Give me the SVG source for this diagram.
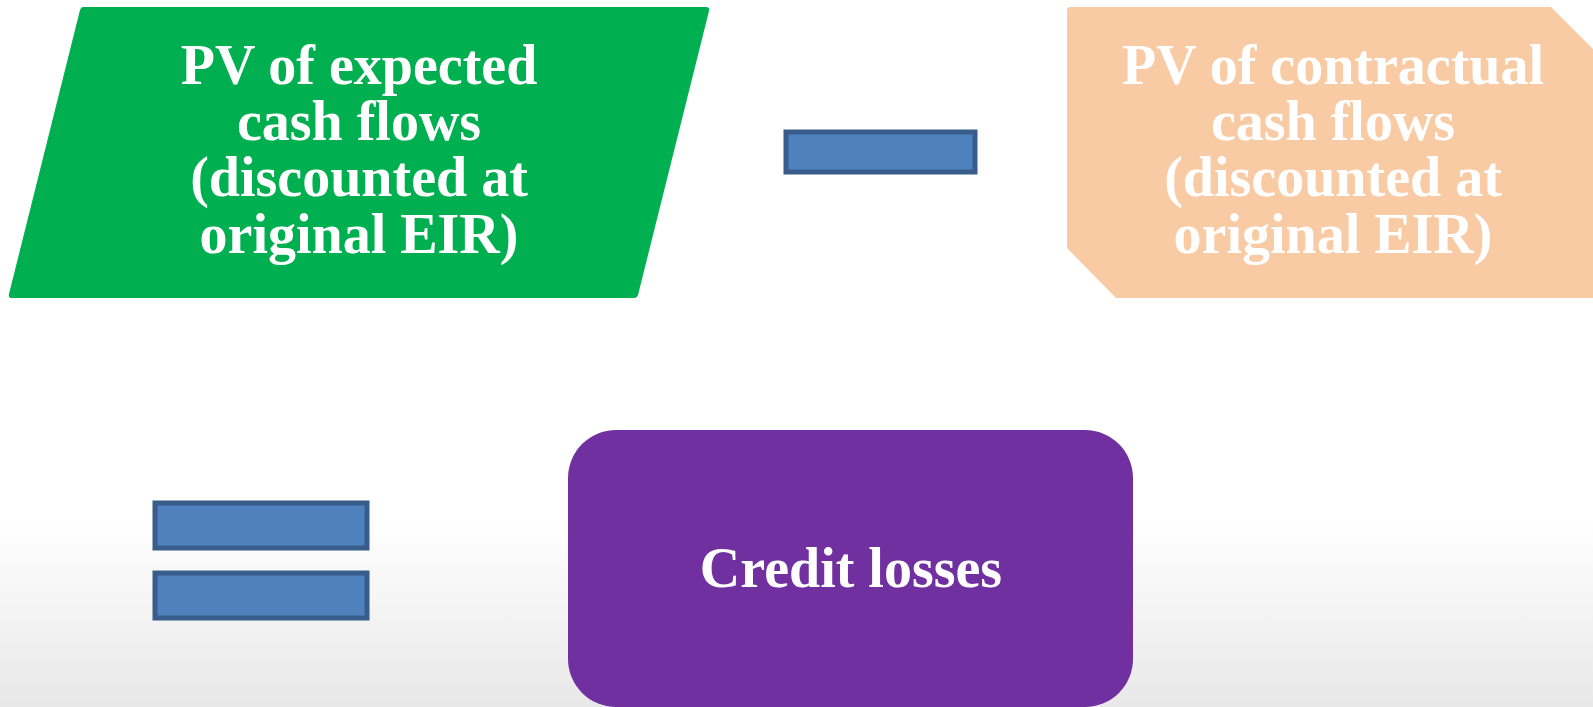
<svg xmlns="http://www.w3.org/2000/svg" width="1593" height="707" viewBox="0 0 1593 707">
  <defs>
    <linearGradient id="floor" x1="0" y1="0" x2="0" y2="1">
      <stop offset="0" stop-color="#ffffff"/>
      <stop offset="1" stop-color="#e8e8e8"/>
    </linearGradient>
    <style>
      .lbl { font-family: "Liberation Serif", "Times New Roman", serif; font-weight: bold; font-size: 56px; fill: #ffffff; text-anchor: middle; }
      .op { fill: #4f81bd; stroke: #385d8a; stroke-width: 5; }
    </style>
  </defs>

  <!-- page background with soft grey fade at the bottom -->
  <rect x="0" y="0" width="1593" height="707" fill="#ffffff"/>
  <rect x="0" y="520" width="1593" height="187" fill="url(#floor)"/>

  <!-- expected cash flows (parallelogram) -->
  <g id="expected">
    <path d="M83,7 L706,7 Q710,7 709,11 L638,295 Q637,298 634,298 L12,298 Q8,298 9,294 L80,10 Q81,7 83,7 Z" fill="#00b050"/>
    <text class="lbl" x="359" y="84">PV of expected</text>
    <text class="lbl" x="359" y="140">cash flows</text>
    <text class="lbl" x="359" y="196">(discounted at</text>
    <text class="lbl" x="359" y="253">original EIR)</text>
  </g>

  <!-- minus operator -->
  <g id="minus">
    <rect class="op" x="786" y="132" width="189" height="40"/>
  </g>

  <!-- contractual cash flows (snipped-corner rectangle) -->
  <g id="contractual">
    <path d="M1070,7 L1551,7 L1600,56 L1600,298 L1116,298 L1067,248 L1067,10 Q1067,7 1070,7 Z" fill="#f9cba4"/>
    <text class="lbl" x="1333" y="84">PV of contractual</text>
    <text class="lbl" x="1333" y="140">cash flows</text>
    <text class="lbl" x="1333" y="196">(discounted at</text>
    <text class="lbl" x="1333" y="253">original EIR)</text>
  </g>

  <!-- equals operator -->
  <g id="equals">
    <rect class="op" x="155" y="503" width="212" height="45"/>
    <rect class="op" x="155" y="573" width="212" height="45"/>
  </g>

  <!-- result -->
  <g id="credit-losses">
    <rect x="568" y="430" width="565" height="277" rx="48" ry="48" fill="#7030a0"/>
    <text class="lbl" x="851" y="587">Credit losses</text>
  </g>
</svg>
